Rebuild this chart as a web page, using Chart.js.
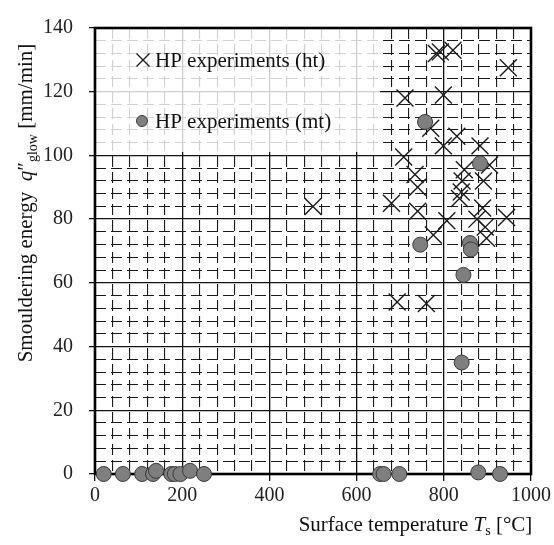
<!DOCTYPE html>
<html>
<head>
<meta charset="utf-8">
<script src="https://cdn.jsdelivr.net/npm/chart.js@4.4.1/dist/chart.umd.min.js"></script>
<style>
  html, body { margin: 0; padding: 0; background: #fff; }
  #wrap { width: 554px; height: 545px; }
</style>
</head>
<body>
<div id="wrap"><canvas id="c" width="554" height="545"></canvas></div>
<script>
// HP experiments, high-temperature (ht) runs
const htTemp   = [500, 680, 693, 708, 711, 734, 740, 740, 760, 770, 776, 783, 792, 799, 799, 807, 821, 830, 836, 840, 842, 847, 876, 883, 889, 891, 895, 898, 905, 944, 948];
const htEnergy = [84, 85, 54, 99.5, 118, 94, 90, 82.5, 53.5, 108.5, 75, 132, 132.5, 119, 103, 79.5, 133, 106, 86.5, 88.5, 92, 95.5, 80, 103, 83.5, 92, 77.5, 74, 97, 80.5, 127.5];

// HP experiments, moderate-temperature (mt) runs
const mtTemp   = [20, 64, 108, 133, 140, 175, 183, 196, 218, 250, 654, 662, 698, 879, 929, 746, 757, 841, 845, 860, 862, 883];
const mtEnergy = [0, 0, 0, 0, 1, 0, 0, 0, 1, 0, 0, 0, 0, 0.5, 0, 72, 110.5, 35, 62.5, 72.5, 70.5, 97.5];

// Axis ranges and labelled (major) ticks
const xTickLabels = [0, 200, 400, 600, 800, 1000];
const yTickLabels = [0, 20, 40, 60, 80, 100, 120, 140];
const xMinorStep = 40;
const yMinorStep = 4;

const seriesNames = ['HP experiments (ht)', 'HP experiments (mt)'];

const SERIF = '"Liberation Serif", "Times New Roman", serif';

const toPoints = (xs, ys) => xs.map((x, i) => ({ x: x, y: ys[i] }));

const isMajor = (scaleId, v) =>
  (scaleId === 'x' ? xTickLabels : yTickLabels).some(t => Math.abs(t - v) < 1e-6);

function gridOpts(scaleId, tickLen) {
  return {
    drawOnChartArea: true,
    drawTicks: true,
    tickLength: tickLen,
    color: ctx => isMajor(scaleId, ctx.tick.value) ? '#111' : '#1a1a1a',
    lineWidth: ctx => isMajor(scaleId, ctx.tick.value) ? 1.3 : 1.1,
    tickColor: ctx => isMajor(scaleId, ctx.tick.value) ? '#111' : 'rgba(0,0,0,0)',
    tickWidth: 1.3
  };
}

function borderOpts(scaleId) {
  return {
    display: false,
    dash: ctx => (ctx.tick && isMajor(scaleId, ctx.tick.value)) ? [] : [11, 5]
  };
}

// Draws a run of text pieces with different fonts/offsets, centred on (0,0)
function drawRich(ctx, parts) {
  let total = 0;
  parts.forEach(p => { ctx.font = p.font; p.w = ctx.measureText(p.t).width; total += p.w; });
  let x = -total / 2;
  parts.forEach(p => {
    ctx.font = p.font;
    ctx.fillText(p.t, x, p.dy || 0);
    x += p.w;
  });
}

const decorPlugin = {
  id: 'decor',
  beforeDatasetsDraw(chart) {
    const { ctx, chartArea: a } = chart;
    ctx.save();
    // legend panel (semi-opaque white over the grid)
    ctx.fillStyle = 'rgba(255,255,255,0.8)';
    ctx.fillRect(a.left, 25, 380 - a.left, 152 - 25);
    // plot frame
    ctx.strokeStyle = '#000';
    ctx.lineWidth = 2.6;
    ctx.strokeRect(a.left, a.top, a.right - a.left, a.bottom - a.top);
    ctx.restore();
  },
  afterDatasetsDraw(chart) {
    const { ctx } = chart;
    const ds = chart.data.datasets;
    ctx.save();
    // legend entries
    ctx.strokeStyle = ds[0].borderColor;
    ctx.lineWidth = 1.3;
    Chart.helpers.drawPoint(ctx, {
      pointStyle: 'crossRot', radius: 9.2, borderWidth: 1.3, rotation: 0
    }, 143, 60);
    ctx.fillStyle = ds[1].backgroundColor;
    ctx.strokeStyle = ds[1].borderColor;
    ctx.lineWidth = 1;
    Chart.helpers.drawPoint(ctx, {
      pointStyle: 'circle', radius: 5.5, borderWidth: 1, rotation: 0
    }, 142, 121);
    ctx.fillStyle = '#111';
    ctx.textBaseline = 'middle';
    ctx.textAlign = 'left';
    ctx.font = '21px ' + SERIF;
    ctx.fillText(seriesNames[0], 155, 61);
    ctx.fillText(seriesNames[1], 155, 122);

    // axis titles
    ctx.textBaseline = 'alphabetic';
    ctx.fillStyle = '#111';
    ctx.save();
    ctx.translate(415.5, 531);
    drawRich(ctx, [
      { t: 'Surface temperature ', font: '21px ' + SERIF },
      { t: 'T', font: 'italic 21px ' + SERIF },
      { t: 's', font: '14px ' + SERIF, dy: 4 },
      { t: ' [°C]', font: '21px ' + SERIF }
    ]);
    ctx.restore();

    ctx.save();
    ctx.translate(32, 203);
    ctx.rotate(-Math.PI / 2);
    drawRich(ctx, [
      { t: 'Smouldering energy  ', font: '21px ' + SERIF },
      { t: 'q', font: 'italic 21px ' + SERIF },
      { t: '\u2033', font: '21px ' + SERIF },
      { t: 'glow', font: '14px ' + SERIF, dy: 5 },
      { t: ' [mm/min]', font: '21px ' + SERIF }
    ]);
    ctx.restore();
    ctx.restore();
  }
};

new Chart(document.getElementById('c'), {
  type: 'scatter',
  data: {
    datasets: [
      {
        label: seriesNames[0],
        data: toPoints(htTemp, htEnergy),
        pointStyle: 'crossRot',
        pointRadius: 12,
        pointBorderWidth: 1.4,
        borderColor: '#1a1a1a',
        backgroundColor: '#1a1a1a',
        order: 2,
        clip: false
      },
      {
        label: seriesNames[1],
        data: toPoints(mtTemp, mtEnergy),
        pointStyle: 'circle',
        pointRadius: 7.5,
        pointBorderWidth: 1,
        borderColor: '#3a3a3a',
        backgroundColor: '#7f7f7f',
        order: 1,
        clip: false
      }
    ]
  },
  options: {
    responsive: false,
    animation: false,
    events: [],
    layout: { padding: { left: 0, top: 13, right: 23, bottom: 0 } },
    plugins: {
      legend: { display: false },
      tooltip: { enabled: false },
      title: { display: false }
    },
    scales: {
      x: {
        type: 'linear',
        min: xTickLabels[0],
        max: xTickLabels[xTickLabels.length - 1],
        afterFit: s => { s.height = 71; },
        ticks: {
          stepSize: xMinorStep,
          autoSkip: false,
          maxRotation: 0,
          padding: 3,
          color: '#222',
          font: { family: SERIF, size: 20 },
          callback: v => isMajor('x', v) ? String(v) : ''
        },
        grid: gridOpts('x', 7),
        border: borderOpts('x')
      },
      y: {
        type: 'linear',
        min: yTickLabels[0],
        max: yTickLabels[yTickLabels.length - 1],
        afterFit: s => { s.width = 95; },
        ticks: {
          stepSize: yMinorStep,
          autoSkip: false,
          padding: 16,
          color: '#222',
          font: { family: SERIF, size: 20 },
          callback: v => isMajor('y', v) ? String(v) : ''
        },
        grid: gridOpts('y', 6),
        border: borderOpts('y')
      }
    }
  },
  plugins: [decorPlugin]
});
</script>
</body>
</html>
